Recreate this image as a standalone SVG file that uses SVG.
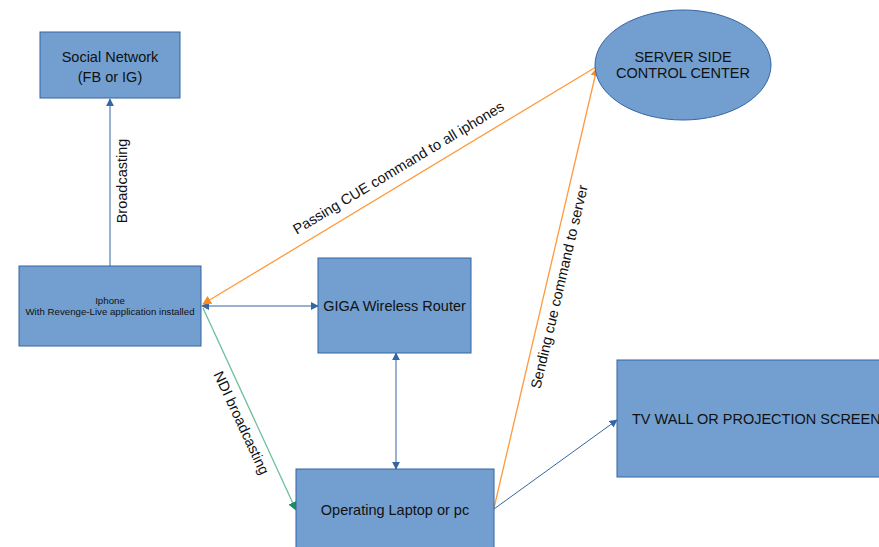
<svg xmlns="http://www.w3.org/2000/svg" width="879" height="547" viewBox="0 0 879 547">
<defs>
<style>
.box{fill:#729fcf;stroke:#3465a4;stroke-width:1}
.t{font-family:"Liberation Sans",Arial,sans-serif;fill:#111;text-anchor:middle;font-size:14.5px}
.blue{stroke:#3465a4;stroke-width:1;fill:none}
.orange{stroke:#ff9a3c;stroke-width:1.3;fill:none}
.green{stroke:#6dbf9c;stroke-width:1.3;fill:none}
</style>
<marker id="ab" viewBox="0 0 10 10" refX="9" refY="5" markerWidth="8" markerHeight="8" orient="auto-start-reverse" markerUnits="userSpaceOnUse"><path d="M0,0 L10,5 L0,10 z" fill="#3465a4"/></marker>
<marker id="ao" viewBox="0 0 10 10" refX="9" refY="5" markerWidth="9" markerHeight="9" orient="auto" markerUnits="userSpaceOnUse"><path d="M0,0 L10,5 L0,10 z" fill="#ff8a1a"/></marker>
<marker id="ag" viewBox="0 0 10 10" refX="9" refY="5" markerWidth="9" markerHeight="9" orient="auto" markerUnits="userSpaceOnUse"><path d="M0,0 L10,5 L0,10 z" fill="#1e8a5e"/></marker>
</defs>
<rect width="879" height="547" fill="#fff"/>
<g id="connectors">
<line class="blue" x1="110" y1="266" x2="110" y2="99" marker-end="url(#ab)"/>
<text class="t" transform="translate(127,181) rotate(-90)">Broadcasting</text>
<line class="blue" x1="202" y1="306" x2="318" y2="306" marker-start="url(#ab)" marker-end="url(#ab)"/>
<line class="blue" x1="396" y1="353" x2="396" y2="469" marker-start="url(#ab)" marker-end="url(#ab)"/>
<line class="blue" x1="494" y1="509" x2="617" y2="420" marker-end="url(#ab)"/>
<line class="orange" x1="596" y1="67" x2="203" y2="304" marker-end="url(#ao)"/>
<text class="t" transform="translate(401,172) rotate(-31)">Passing CUE command to all iphones</text>
<line class="orange" x1="494" y1="508" x2="597" y2="68" marker-end="url(#ao)"/>
<text class="t" transform="translate(564,288) rotate(-76.8)">Sending cue command to server</text>
<line class="green" x1="203" y1="308" x2="296" y2="510" marker-end="url(#ag)"/>
<text class="t" transform="translate(237,425) rotate(65)">NDI broadcasting</text>
</g>
<g id="social">
<rect class="box" x="40" y="32" width="140" height="66"/>
<text class="t" x="110" y="62">Social Network</text>
<text class="t" x="110" y="82">(FB or IG)</text>
</g>
<g id="iphone">
<rect class="box" x="19" y="266" width="182" height="80"/>
<text class="t" style="font-size:9.7px" x="110" y="304">Iphone</text>
<text class="t" style="font-size:9.7px" x="110" y="315">With Revenge-Live application installed</text>
</g>
<g id="router">
<rect class="box" x="318" y="258" width="153" height="95"/>
<text class="t" x="394.5" y="311">GIGA Wireless Router</text>
</g>
<g id="laptop">
<rect class="box" x="296" y="469" width="198" height="90"/>
<text class="t" x="395" y="515">Operating Laptop or pc</text>
</g>
<g id="tv">
<rect class="box" x="617" y="360" width="300" height="117"/>
<text class="t" x="632" y="424" style="text-anchor:start">TV WALL OR PROJECTION SCREEN</text>
</g>
<g id="server">
<ellipse class="box" cx="683" cy="65" rx="88" ry="55"/>
<text class="t" x="683" y="62">SERVER SIDE</text>
<text class="t" x="683" y="78">CONTROL CENTER</text>
</g>
</svg>
